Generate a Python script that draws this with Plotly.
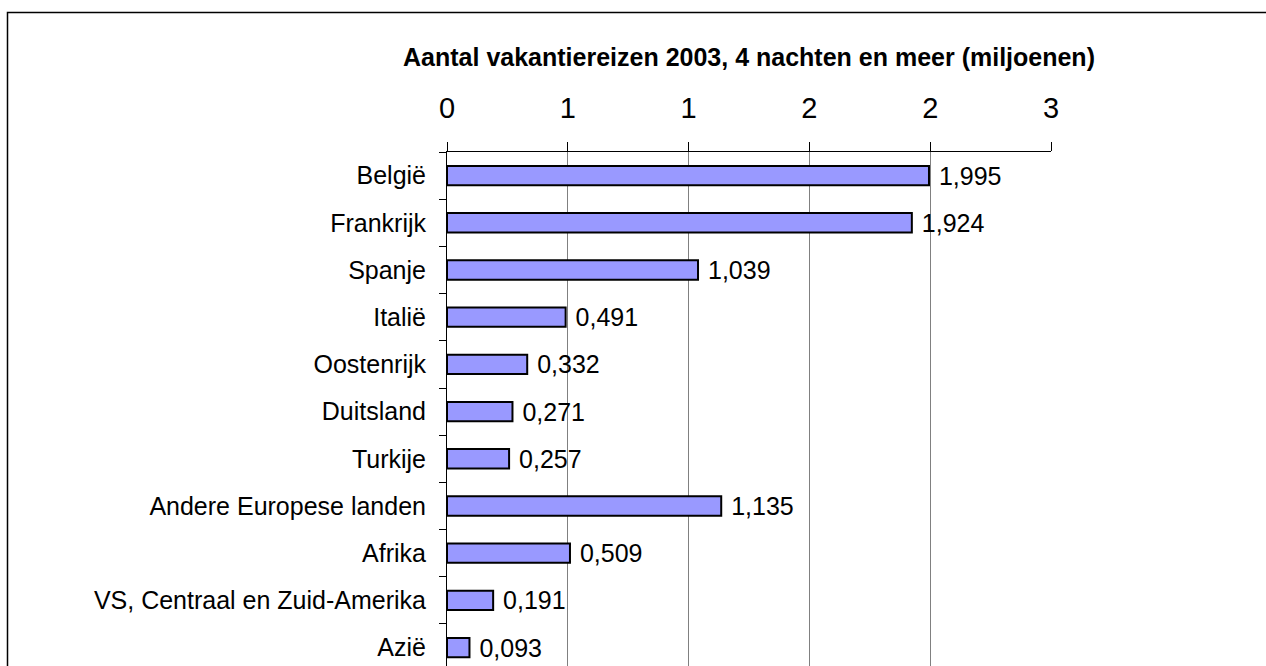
import plotly.graph_objects as go

categories = ["België", "Frankrijk", "Spanje", "Italië", "Oostenrijk", "Duitsland",
              "Turkije", "Andere Europese landen", "Afrika",
              "VS, Centraal en Zuid-Amerika", "Azië"]
values = [1.995, 1.924, 1.039, 0.491, 0.332, 0.271, 0.257, 1.135, 0.509, 0.191, 0.093]
tick_vals = [0, 0.5, 1.0, 1.5, 2.0, 2.5]
tick_text = ["0", "1", "1", "2", "2", "3"]
title_text = "Aantal vakantiereizen 2003, 4 nachten en meer (miljoenen)"

FONT = "Arial, 'Liberation Sans', sans-serif"
labels = ["\u00a0" + f"{v:.3f}".replace(".", ",") for v in values]

W, H = 1266, 666
L, R, T, B = 447, 1051, 152, 666

fx0 = (7.5 - L) / (R - L)
fx1 = (1290 - L) / (R - L)
fy0 = (B - 700) / (B - T)
fy1 = (B - 12.5) / (B - T)
frame_path = f"M {fx0},{fy0} L {fx0},{fy1} L {fx1},{fy1}"

fig = go.Figure(go.Bar(
    x=values, y=categories, orientation="h",
    width=0.41,
    marker=dict(color="#9999FF", line=dict(color="black", width=2)),
    text=labels, textposition="outside", cliponaxis=False, constraintext="none",
    textfont=dict(family=FONT, size=25, color="black"),
    hoverinfo="skip",
))

fig.update_layout(
    width=W, height=H,
    margin=dict(l=L, r=W - R, t=T, b=H - B, pad=0),
    paper_bgcolor="white", plot_bgcolor="white",
    showlegend=False,
    font=dict(family=FONT, color="black"),
    title=dict(text="<b>" + title_text + "</b>", font=dict(family=FONT, size=25, color="black"),
               xref="paper", x=0.5, xanchor="center",
               yref="container", y=1 - 57 / H, yanchor="middle"),
    xaxis=dict(side="top", range=[0, 2.5], tickvals=tick_vals, ticktext=tick_text,
               showgrid=True, gridcolor="#808080", gridwidth=1,
               showline=True, linecolor="black", linewidth=1,
               ticks="outside", ticklen=9, tickcolor="black", tickwidth=1,
               zeroline=False, tickfont=dict(family=FONT, size=29, color="black"),
               ticklabelstandoff=12, fixedrange=True),
    yaxis=dict(range=[10.39, -0.5], tickson="boundaries",
               showline=True, linecolor="black", linewidth=1,
               ticks="outside", ticklen=7, tickcolor="black",
               showgrid=False, zeroline=False,
               tickfont=dict(family=FONT, size=25, color="black"),
               ticklabelstandoff=15, fixedrange=True),
    shapes=[dict(type="path", xref="paper", yref="paper", path=frame_path,
                 line=dict(color="black", width=1.5), layer="above")],
)

fig.write_html("out.html", config={"displayModeBar": False},
               post_script="document.body.style.margin='0';document.body.style.overflow='hidden';")
